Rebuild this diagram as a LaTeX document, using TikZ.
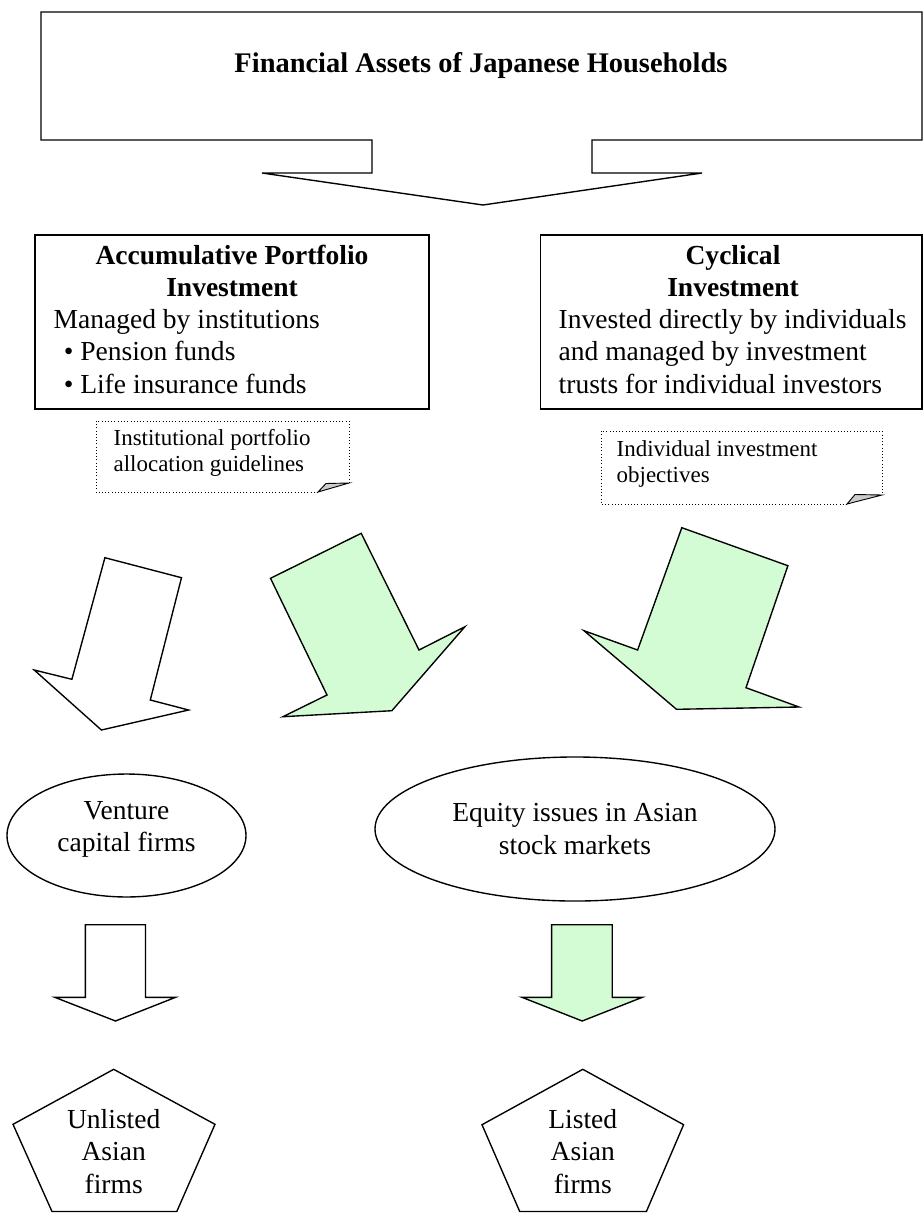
\documentclass[tikz,border=0pt]{standalone}
\usepackage{fontspec}
\setmainfont{Liberation Serif}
\usepackage{xcolor}
\usepackage{tikz}
\usetikzlibrary{positioning,calc,shapes.geometric}
\definecolor{flowgreen}{RGB}{212,252,212}

\begin{document}
\begin{tikzpicture}[x=0.436pt, y=-0.436pt, line width=0.6pt, line join=miter,
    headtext/.style={font=\fontsize{12}{14.1}\selectfont\bfseries, inner sep=0pt, align=center},
    maintext/.style={font=\fontsize{12}{14.1}\selectfont, inner sep=0pt},
    notetext/.style={font=\fontsize{10}{11.3}\selectfont, inner sep=0pt, align=left},
    notebox/.style={densely dotted, line width=0.4pt},
    greenarrow/.style={draw, fill=flowgreen},
    whitearrow/.style={draw, fill=white}]
    \useasboundingbox (0,0) rectangle (924,1213);

    % Households box with its arrow
    \draw (41,12) -- (922,12) -- (922,140) -- (592,140) -- (592,173) -- (702,173) -- (483,205)
        -- (262,173) -- (372,173) -- (372,140) -- (41,140) -- cycle;
    \node[headtext, font=\fontsize{12.4}{14.1}\selectfont\bfseries, anchor=base] (households) at (481,72)
        {Financial Assets of Japanese Households};

    % Accumulative portfolio investment (multi-line texts sit on their last baseline)
    \node[draw, rectangle, minimum width=171.8pt, minimum height=75.9pt] (accum) at (232,322) {};
    \node[headtext, anchor=base] (accumtitle) at (232,296.5) {Accumulative Portfolio\\Investment};
    \node[maintext, align=left, anchor=base west] (accumtext) at (53,393.3)
        {Managed by institutions\\\hspace*{4.4pt}\textbullet\ Pension funds\\\hspace*{4.4pt}\textbullet\ Life insurance funds};

    % Cyclical investment
    \node[draw, rectangle, minimum width=166.2pt, minimum height=75.9pt] (cyclical) at (731.4,322) {};
    \node[headtext, anchor=base] (cyctitle) at (733,296.5) {Cyclical\\Investment};
    \node[maintext, align=left, anchor=base west] (cyctext) at (558,393.3)
        {Invested directly by individuals\\and managed by investment\\trusts for individual investors};

    % Notes with folded corners
    \draw[notebox] (318,492) -- (96,492) -- (96,421) -- (349,421) -- (349,483);
    \draw[line width=0.4pt, fill=gray!40] (318,492) -- (326,483.5) -- (349,483) -- cycle;
    \node[notetext, anchor=base west] (guidelines) at (113,471.7) {Institutional portfolio\\allocation guidelines};

    \draw[notebox] (847,504) -- (601,504) -- (601,431) -- (882,431) -- (882,495);
    \draw[line width=0.4pt, fill=gray!40] (847,504) -- (855,494.5) -- (882,495) -- cycle;
    \node[notetext, anchor=base west] (objectives) at (616,482.5) {Individual investment\\objectives};

    % Tilted block arrows
    \draw[whitearrow] (104.9,557.7) -- (181.5,577.7) -- (150.3,700) -- (188.6,710) -- (101.4,730)
        -- (34.2,670) -- (71.9,679.3) -- cycle;
    \draw[greenarrow] (361.2,533.3) -- (270.5,578.3) -- (327,695) -- (282.9,716.7) -- (391.9,710.7)
        -- (464.9,626.7) -- (419,650) -- cycle;
    \draw[greenarrow] (681.8,527.7) -- (787.9,565.7) -- (746,687.7) -- (799,707) -- (676.5,709.3)
        -- (584,630.7) -- (637.6,650) -- cycle;

    % Intermediaries
    \node[draw, ellipse, minimum width=104.2pt, minimum height=53.6pt] (venture) at (126.5,835.5) {};
    \node[maintext, align=center, anchor=base] (venturetext) at (126.5,851.7) {Venture\\capital firms};
    \node[draw, ellipse, minimum width=174.4pt, minimum height=62.8pt] (equity) at (575,829) {};
    \node[maintext, align=center, anchor=base] (equitytext) at (575,854) {Equity issues in Asian\\stock markets};

    % Straight block arrows
    \draw[whitearrow] (85.4,924.7) -- (145.5,924.7) -- (145.5,997.3) -- (175.6,997.3) -- (115.5,1021)
        -- (54.8,997.3) -- (85.4,997.3) -- cycle;
    \draw[greenarrow] (551.6,924.7) -- (612.3,924.7) -- (612.3,997.3) -- (642.3,997.3) -- (582.2,1021)
        -- (522,997.3) -- (551.6,997.3) -- cycle;

    % Asian firms
    \draw (113.7,1069.3) -- (215,1124.3) -- (176.8,1211.5) -- (52,1211.5) -- (13,1124.3) -- cycle;
    \node[maintext, align=center, anchor=base] (unlisted) at (113.7,1193) {Unlisted\\Asian\\firms};
    \draw (582.8,1069.3) -- (683.6,1124.7) -- (646.4,1211.5) -- (519.7,1211.5) -- (482,1124.7) -- cycle;
    \node[maintext, align=center, anchor=base] (listed) at (582.8,1193) {Listed\\Asian\\firms};
\end{tikzpicture}
\end{document}
